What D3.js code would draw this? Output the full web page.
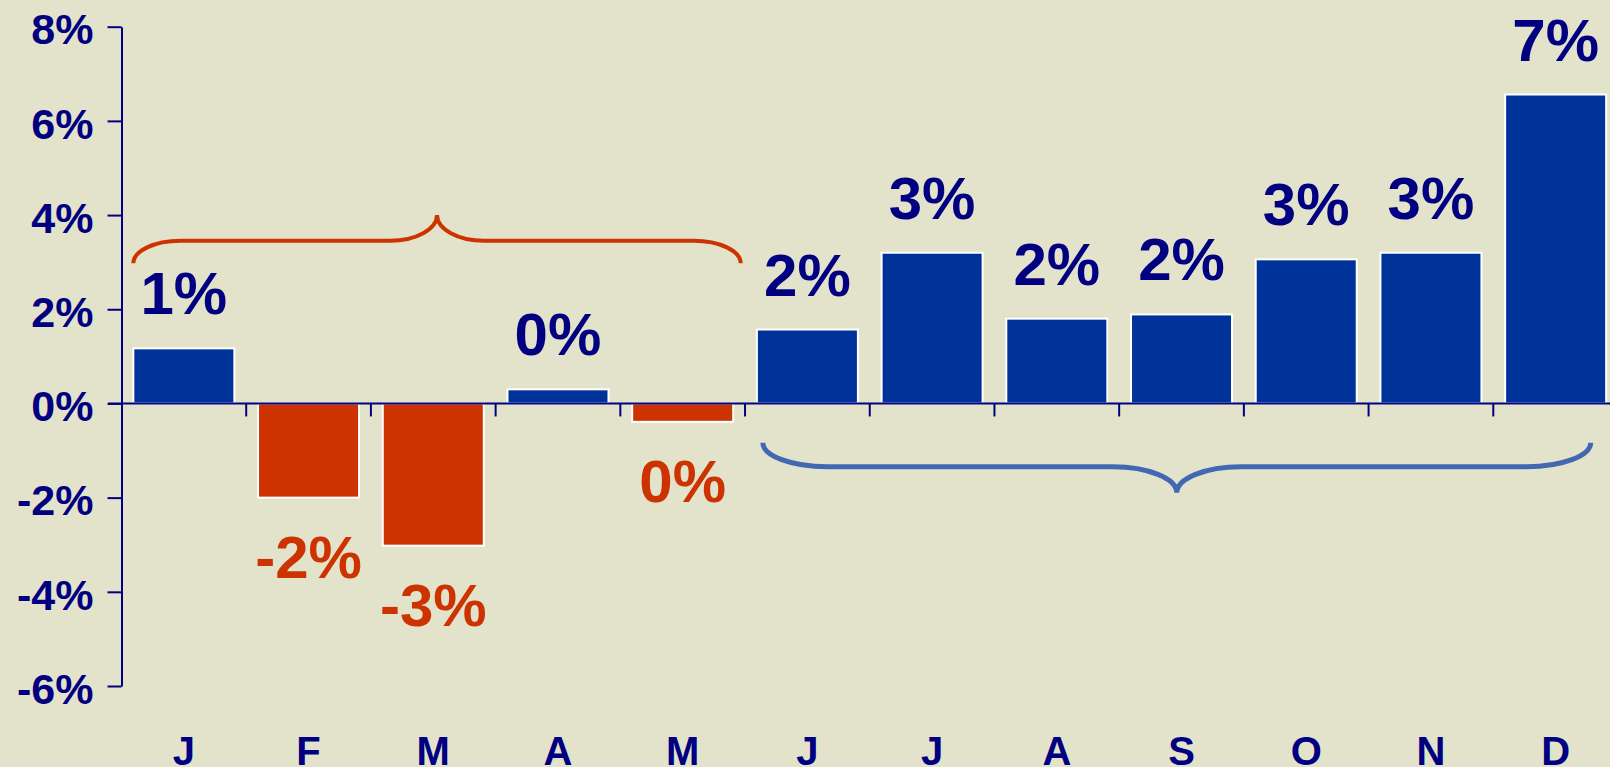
<!DOCTYPE html>
<html>
<head>
<meta charset="utf-8">
<script src="https://cdn.jsdelivr.net/npm/d3@7"></script>
<style>
  body { margin: 0; background: #e3e3cb; overflow: hidden; }
  svg { display: block; font-family: "Liberation Sans", Arial, sans-serif; font-weight: bold; }
</style>
</head>
<body>
<svg></svg>
<script>
let months = ['Jan', 'Feb', 'Mar', 'Apr', 'May', 'Jun', 'Jul', 'Aug', 'Sep', 'Oct', 'Nov', 'Dec'];
let monthLabels = ['J', 'F', 'M', 'A', 'M', 'J', 'J', 'A', 'S', 'O', 'N', 'D'];
let change = [1.17, -2.0, -3.02, 0.30, -0.39, 1.57, 3.2, 1.8, 1.89, 3.06, 3.2, 6.56];
let valueLabels = ['1%', '-2%', '-3%', '0%', '0%', '2%', '3%', '2%', '2%', '3%', '3%', '7%'];
let yTicks = [-6, -4, -2, 0, 2, 4, 6, 8];
let yTickLabels = ['-6%', '-4%', '-2%', '0%', '2%', '4%', '6%', '8%'];

let svgWidth = 1610, svgHeight = 767;
let navy = '#000080', blue = '#003399', red = '#cc3300', braceBlue = '#4268b4';

let svg = d3.select('svg')
            .attr('width', svgWidth)
            .attr('height', svgHeight);

// the plot runs a little past the right edge, like the original
let x = d3.scaleBand()
          .domain(months)
          .range([121.5, 1618])
          .paddingInner(0.19)
          .paddingOuter(0.095);

let y = d3.scaleLinear()
          .domain([-6, 8])
          .range([686, 26.7]);

// bars
svg.selectAll('rect.bar')
   .data(change)
   .enter()
   .append('rect')
   .attr('class', 'bar')
   .attr('x', (d, i) => x(months[i]))
   .attr('y', (d) => y(Math.max(0, d)))
   .attr('width', x.bandwidth())
   .attr('height', (d) => Math.abs(y(d) - y(0)))
   .attr('fill', (d) => d < 0 ? red : blue)
   .attr('stroke', '#fff')
   .attr('stroke-width', 2);

// value labels
svg.selectAll('text.val')
   .data(change)
   .enter()
   .append('text')
   .attr('class', 'val')
   .attr('x', (d, i) => x(months[i]) + x.bandwidth() / 2)
   .attr('y', (d) => d >= 0 ? y(d) - 34 : y(d) + 80)
   .attr('text-anchor', 'middle')
   .attr('font-size', 60)
   .attr('fill', (d) => d < 0 ? red : navy)
   .text((d, i) => valueLabels[i]);

// y axis
let yAxis = d3.axisLeft(y)
              .tickValues(yTicks)
              .tickSize(14)
              .tickSizeOuter(0)
              .tickPadding(14)
              .tickFormat((d, i) => yTickLabels[i]);

let gy = svg.append('g')
            .attr('transform', 'translate(121.5,0)')
            .call(yAxis);
gy.attr('font-family', null).attr('font-size', null);
gy.select('.domain').attr('stroke', navy).attr('stroke-width', 2);
gy.selectAll('.tick line').attr('stroke', navy).attr('stroke-width', 2);
gy.selectAll('.tick text')
  .attr('fill', navy)
  .attr('font-size', 43)
  .attr('dy', '0.4em');

// x axis line at zero with ticks between months
let step = x.step(), x0 = x.range()[0];
svg.append('line')
   .attr('x1', 108).attr('x2', svgWidth)
   .attr('y1', y(0)).attr('y2', y(0))
   .attr('stroke', navy).attr('stroke-width', 2);

svg.selectAll('line.sep')
   .data(d3.range(1, months.length))
   .enter()
   .append('line')
   .attr('class', 'sep')
   .attr('x1', (i) => x0 + i * step)
   .attr('x2', (i) => x0 + i * step)
   .attr('y1', y(0))
   .attr('y2', y(0) + 13)
   .attr('stroke', navy)
   .attr('stroke-width', 2);

// month letters along the bottom
let gx = svg.append('g')
            .attr('transform', 'translate(0,765)')
            .call(d3.axisBottom(x).tickSize(0).tickPadding(0).tickFormat((d, i) => monthLabels[i]));
gx.attr('font-family', null).attr('font-size', null);
gx.select('.domain').remove();
gx.selectAll('.tick text')
  .attr('fill', navy)
  .attr('font-size', 40)
  .attr('dy', 0);

// curly braces
function brace(xa, xb, yEnd, yMid, yTip, k) {
  let xm = (xa + xb) / 2;
  let c = 0.55;
  return 'M' + xa + ',' + yEnd +
    'C' + xa + ',' + (yEnd + (yMid - yEnd) * c) + ' ' + (xa + k * (1 - c)) + ',' + yMid + ' ' + (xa + k) + ',' + yMid +
    'L' + (xm - k) + ',' + yMid +
    'C' + (xm - k * (1 - c)) + ',' + yMid + ' ' + xm + ',' + (yMid + (yTip - yMid) * (1 - c)) + ' ' + xm + ',' + yTip +
    'C' + xm + ',' + (yMid + (yTip - yMid) * (1 - c)) + ' ' + (xm + k * (1 - c)) + ',' + yMid + ' ' + (xm + k) + ',' + yMid +
    'L' + (xb - k) + ',' + yMid +
    'C' + (xb - k * (1 - c)) + ',' + yMid + ' ' + xb + ',' + (yEnd + (yMid - yEnd) * c) + ' ' + xb + ',' + yEnd;
}

svg.append('path')
   .attr('d', brace(x('Jan'), x('May') + x.bandwidth() + 7.5, 263.3, 240.7, 215, 47))
   .attr('fill', 'none')
   .attr('stroke', red)
   .attr('stroke-width', 4);

svg.append('path')
   .attr('d', brace(x('Jun') + 6, x('Dec') + x.bandwidth() - 15.5, 442.7, 466.7, 492.7, 64))
   .attr('fill', 'none')
   .attr('stroke', braceBlue)
   .attr('stroke-width', 5);
</script>
</body>
</html>
